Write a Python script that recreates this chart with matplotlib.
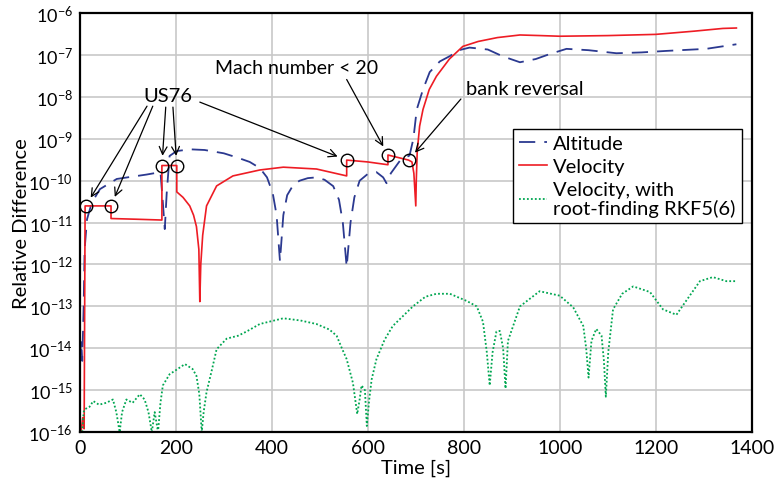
import matplotlib
matplotlib.use("Agg")
import matplotlib.pyplot as plt

plt.rcParams['font.family'] = ['Lato', 'DejaVu Sans']
plt.rcParams['mathtext.fontset'] = 'custom'
plt.rcParams['mathtext.rm'] = 'Lato'
plt.rcParams['mathtext.it'] = 'Lato:italic'
plt.rcParams['mathtext.bf'] = 'Lato:bold'

# Altitude relative difference (dashed)
alt_t = [0, 3, 5, 8, 10, 15, 25, 42, 77, 139, 168, 173, 177, 181, 187, 202, 230, 260,
         300, 330, 354, 375, 390, 402, 410, 417, 424, 432, 445, 458, 475, 493, 510, 528,
         540, 548, 556, 564, 572, 583, 600, 618, 632, 639, 648, 667, 687, 695, 702, 715,
         729, 750, 771, 790, 812, 850, 881, 917, 950, 979, 1014, 1060, 1118, 1170, 1222,
         1305, 1368]
alt_v = [6e-15, 1.5e-14, 5e-15, 1e-13, 2.3e-12, 1.2e-11, 3e-11, 6.3e-11, 1.1e-10, 1.4e-10,
         1.6e-10, 3e-11, 7e-12, 5e-11, 3.9e-10, 5.1e-10, 5.6e-10, 5.4e-10, 4.5e-10, 3.5e-10,
         2.8e-10, 2e-10, 1.2e-10, 5e-11, 1.5e-11, 1.2e-12, 1.5e-11, 4.5e-11, 8e-11, 1e-10,
         1.15e-10, 1.2e-10, 1.05e-10, 7.4e-11, 3.5e-11, 1e-11, 8.7e-13, 1e-11, 4e-11, 1e-10,
         1.45e-10, 1.6e-10, 1.2e-10, 8.7e-11, 1.5e-10, 3e-10, 4e-10, 1e-9, 5e-9, 1.5e-8,
         3.9e-8, 7e-8, 9.4e-8, 1.3e-7, 1.5e-7, 1.35e-7, 9.3e-8, 6.7e-8, 8e-8, 1.05e-7,
         1.4e-7, 1.3e-7, 1.1e-7, 1.15e-7, 1.25e-7, 1.4e-7, 1.8e-7]

# Velocity relative difference (solid)
vel_t = [3, 6, 9, 11, 65, 65, 120, 171, 171, 202, 202, 215, 229, 237, 243, 248, 250, 252,
         256, 264, 285, 319, 375, 424, 493, 556, 556, 600, 642, 642, 685, 692, 696, 700,
         701, 703, 708, 715, 728, 743, 770, 798, 830, 870, 917, 960, 1000, 1100, 1200,
         1280, 1340, 1368]
vel_v = [1.1e-16, 2.2e-16, 1.2e-16, 2.5e-11, 2.5e-11, 1.25e-11, 1.2e-11, 1.15e-11, 2.3e-10,
         2.3e-10, 5.4e-11, 4e-11, 2.5e-11, 1.5e-11, 8e-12, 2.3e-12, 1.3e-13, 1e-12, 5e-12,
         2.5e-11, 7.5e-11, 1.3e-10, 1.8e-10, 2.1e-10, 1.9e-10, 1.3e-10, 3.1e-10, 2.8e-10,
         2.4e-10, 4.1e-10, 3.1e-10, 2.8e-10, 1.5e-10, 2.5e-11, 1e-10, 5e-10, 2e-9, 5e-9,
         1.5e-8, 3.1e-8, 8e-8, 1.6e-7, 2.1e-7, 2.6e-7, 3e-7, 2.9e-7, 2.8e-7, 2.9e-7, 3.1e-7,
         3.7e-7, 4.3e-7, 4.4e-7]

# Velocity with root-finding RKF5(6) (dotted)
rkf_t = [5, 8, 10, 20, 28, 40, 55, 69, 76, 83, 88, 97, 110, 125, 135, 143, 150, 156, 163,
         168, 173, 187, 200, 219, 235, 243, 249, 254, 258, 264, 275, 285, 306, 330, 347,
         375, 424, 460, 493, 520, 535, 546, 556, 569, 578, 583, 587, 594, 598, 603, 608,
         618, 635, 652, 694, 720, 743, 771, 806, 827, 840, 848, 854, 860, 868, 875, 882,
         887, 892, 917, 958, 1000, 1028, 1049, 1055, 1060, 1066, 1076, 1087, 1092, 1096,
         1101, 1111, 1130, 1153, 1188, 1215, 1243, 1260, 1292, 1319, 1347, 1368]
rkf_v = [1e-16, 3e-16, 3.5e-16, 4e-16, 5.5e-16, 4.5e-16, 5e-16, 6e-16, 3e-16, 1e-16, 3e-16,
         6e-16, 5e-16, 8e-16, 6e-16, 3e-16, 1e-16, 3e-16, 1e-16, 5e-16, 1.3e-15, 2.4e-15,
         3e-15, 4.2e-15, 3.2e-15, 2.2e-15, 8e-16, 1e-16, 3e-16, 9e-16, 3e-15, 9.5e-15,
         1.7e-14, 2e-14, 2.5e-14, 3.8e-14, 5.2e-14, 4.6e-14, 3.8e-14, 2.8e-14, 2e-14, 1e-14,
         5.5e-15, 1.5e-15, 2.7e-16, 6e-16, 1.3e-15, 1e-15, 1.4e-16, 6e-16, 1.8e-15, 5.5e-15,
         1.6e-14, 3.4e-14, 1e-13, 1.7e-13, 2e-13, 2e-13, 1.35e-13, 1e-13, 4.3e-14, 8e-15,
         1.3e-15, 8e-15, 2.5e-14, 2.6e-14, 1e-14, 1.1e-15, 1.5e-14, 1e-13, 2.3e-13, 1.8e-13,
         9.5e-14, 3.4e-14, 1e-14, 2e-15, 1.5e-14, 2.9e-14, 2e-14, 5e-15, 7e-16, 8e-15,
         8.5e-14, 2e-13, 3e-13, 2.2e-13, 8.5e-14, 6.3e-14, 1.2e-13, 4e-13, 5e-13, 4e-13, 4e-13]

# marked events on the velocity curve
event_t = [12, 65, 171, 202, 556, 642, 685]
event_v = [2.5e-11, 2.5e-11, 2.3e-10, 2.3e-10, 3.1e-10, 4.1e-10, 3.1e-10]

fig = plt.figure(figsize=(7.75, 4.85), dpi=100)
ax = fig.add_subplot(111)
fig.subplots_adjust(left=0.103, right=0.970, top=0.971, bottom=0.107)

ax.plot(alt_t, alt_v, color='#2b3990', lw=1.3, ls=(0, (9, 5)), label='Altitude')
ax.plot(vel_t, vel_v, color='#ee1c24', lw=1.2, label='Velocity')
ax.plot(rkf_t, rkf_v, color='#00a651', lw=1.3, ls=(0, (1, 1.2)),
        label='Velocity, with\nroot-finding RKF5(6)')
ax.plot(event_t, event_v, 'o', ms=9, mfc='none', mec='black', mew=1.0)

ax.set_yscale('log')
ax.set_xlim(0, 1400)
ax.set_ylim(1e-16, 1e-6)
ax.set_xticks(range(0, 1401, 200))
ax.set_yticks([10.0 ** e for e in range(-16, -5)])
ax.set_yticklabels([r'$10^{%d}$' % e for e in range(-16, -5)])
ax.minorticks_off()
ax.tick_params(axis='x', length=0, labelsize=14, pad=5)
ax.tick_params(axis='y', length=0, labelsize=13, pad=5)
ax.grid(True, color='#c8c8c8', lw=1.2)
ax.set_axisbelow(True)
for s in ax.spines.values():
    s.set_linewidth(1.6)

ax.set_xlabel('Time [s]', fontsize=14.5, labelpad=2)
ax.set_ylabel('Relative Difference', fontsize=14.5)
ax.yaxis.set_label_coords(-0.074, 0.5)

arrow = dict(arrowstyle='->', color='black', lw=0.9, shrinkA=0, shrinkB=7,
             mutation_scale=14)

# US76 annotations
ax.text(183, 1.05e-8, 'US76', fontsize=14.5, ha='center', va='center')
us_tails = [(140, 6e-9), (152, 6e-9), (179, 5.7e-9), (194, 5.7e-9), (250, 7.5e-9)]
for (tx, ty), ex, ev in zip(us_tails, event_t[:5], event_v[:5]):
    ax.annotate('', xy=(ex, ev), xytext=(tx, ty), arrowprops=arrow)

ax.text(452, 5.1e-8, 'Mach number < 20', fontsize=14, ha='center', va='center')
ax.annotate('', xy=(event_t[5], event_v[5]), xytext=(556, 2.6e-8), arrowprops=arrow)

ax.text(927, 1.6e-8, 'bank reversal', fontsize=14.5, ha='center', va='center')
ax.annotate('', xy=(event_t[6], event_v[6]), xytext=(794, 8.9e-9), arrowprops=arrow)

leg = ax.legend(loc='upper right', bbox_to_anchor=(0.985, 0.723), fontsize=14.5,
                handlelength=1.4, handletextpad=0.3, labelspacing=0.3,
                borderpad=0.3, fancybox=False, framealpha=1, borderaxespad=0)
leg.get_texts()[2].set_linespacing(1.05)
leg.get_frame().set_edgecolor('black')
leg.get_frame().set_linewidth(1.0)

fig.savefig('out.png', dpi=100)
